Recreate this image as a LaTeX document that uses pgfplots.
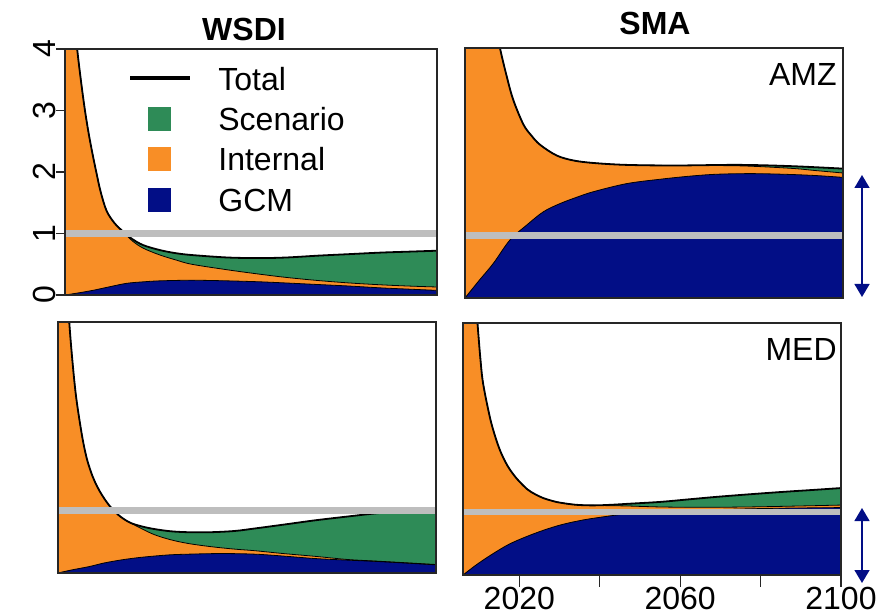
\documentclass[border=0pt]{standalone}
\usepackage{pgfplots}
\pgfplotsset{compat=1.18}
\usepackage{pgfplotstable}
\usepackage{fontspec}
\setmainfont{Liberation Sans}
\usetikzlibrary{arrows.meta}

\definecolor{sgreen}{RGB}{46,139,87}
\definecolor{sorange}{RGB}{248,142,38}
\definecolor{sblue}{RGB}{2,14,134}
\definecolor{refgray}{RGB}{190,190,190}

% ---------- WSDI / AMZ (top left) ----------
\pgfplotstableread{
year val
2006 7.3
2007 5.9
2008 4.8
2009 4.05
2010 3.5
2011 3.02
2012 2.62
2013 2.28
2014 1.97
2015 1.68
2016.5 1.37
2018.5 1.17
2020.7 1.03
2023 0.91
2025.8 0.81
2030 0.73
2034 0.68
2038 0.65
2047 0.61
2055 0.60
2062 0.61
2070 0.64
2078 0.665
2086 0.69
2093 0.705
2100 0.72
}\tlTotal
\pgfplotstableread{
year val
2006 7.3
2007 5.9
2008 4.8
2009 4.05
2010 3.5
2011 3.02
2012 2.62
2013 2.28
2014 1.97
2015 1.68
2016.5 1.37
2018.5 1.17
2020.7 1.03
2023 0.88
2025.8 0.76
2030 0.65
2034 0.57
2038 0.50
2047 0.41
2055 0.34
2062 0.285
2070 0.235
2078 0.195
2086 0.165
2093 0.145
2100 0.13
}\tlInt
\pgfplotstableread{
year val
2006 0
2009 0.03
2013 0.075
2017 0.13
2021.6 0.19
2026 0.215
2030 0.23
2038 0.24
2047 0.23
2055 0.215
2062 0.195
2070 0.17
2078 0.145
2086 0.115
2093 0.095
2100 0.075
}\tlGcm

% ---------- SMA / AMZ (top right) ----------
\pgfplotstableread{
year val
2006 9
2009 6.5
2012 5.0
2013.5 4.45
2014.7 4.0
2016.4 3.54
2018 3.17
2020.5 2.78
2022.5 2.6
2024.7 2.45
2028.8 2.28
2033 2.2
2038 2.16
2046 2.13
2058 2.12
2074 2.13
2087 2.11
2100 2.07
}\trTotal
\pgfplotstableread{
year val
2006 9
2009 6.5
2012 5.0
2013.5 4.45
2014.7 4.0
2016.4 3.54
2018 3.17
2020.5 2.78
2022.5 2.6
2024.7 2.45
2028.8 2.28
2033 2.2
2038 2.16
2046 2.13
2058 2.12
2074 2.115
2087 2.075
2093 2.04
2100 2.00
}\trInt
\pgfplotstableread{
year val
2006 0
2009.5 0.28
2013 0.55
2017.2 0.93
2021.4 1.17
2025.5 1.38
2029.6 1.51
2033.7 1.61
2037.9 1.70
2046.2 1.83
2054.5 1.90
2062 1.95
2068.6 1.98
2077 1.99
2085.2 1.98
2093 1.96
2100 1.93
}\trGcm

% ---------- WSDI / MED (bottom left) ----------
\pgfplotstableread{
year val
2006 9
2007 6.6
2008 4.9
2008.8 4.0
2009.7 3.3
2010.6 2.76
2012 2.18
2013.1 1.84
2014.2 1.61
2015.2 1.45
2016.4 1.3
2018 1.14
2019.5 1.02
2021.5 0.9
2024 0.80
2027 0.74
2030 0.70
2034 0.665
2038.4 0.65
2044 0.65
2050 0.67
2055 0.71
2062 0.77
2070 0.84
2078 0.90
2085 0.95
2092 0.99
2100 1.02
}\blTotal
\pgfplotstableread{
year val
2006 9
2007 6.6
2008 4.9
2008.8 4.0
2009.7 3.3
2010.6 2.76
2012 2.18
2013.1 1.84
2014.2 1.61
2015.2 1.45
2016.4 1.3
2018 1.14
2019.5 1.02
2021.5 0.9
2024 0.80
2027 0.70
2030 0.61
2034 0.53
2038.4 0.47
2044 0.42
2050 0.38
2055 0.355
2062 0.31
2070 0.265
2078 0.215
2085 0.19
2092 0.165
2100 0.135
}\blInt
\pgfplotstableread{
year val
2006 0
2009.5 0.05
2013.6 0.10
2017.5 0.16
2021.9 0.21
2026 0.245
2030 0.27
2034 0.29
2038.4 0.30
2046.7 0.31
2055 0.30
2062 0.27
2070 0.23
2078 0.205
2085 0.185
2092 0.16
2100 0.13
}\blGcm

% ---------- SMA / MED (bottom right) ----------
\pgfplotstableread{
year val
2006 11
2007 8
2008 5.8
2009 4.5
2009.6 4.0
2010.3 3.45
2011 3.04
2012.7 2.5
2014 2.2
2015.2 1.98
2016.5 1.8
2017.7 1.67
2019.5 1.52
2022 1.36
2024 1.28
2026 1.22
2028 1.18
2030 1.15
2034 1.115
2038.4 1.105
2043 1.115
2047 1.13
2055 1.16
2062 1.20
2069 1.24
2077 1.28
2085.7 1.32
2093 1.35
2100 1.38
}\brTotal
\pgfplotstableread{
year val
2006 11
2007 8
2008 5.8
2009 4.5
2009.6 4.0
2010.3 3.45
2011 3.04
2012.7 2.5
2014 2.2
2015.2 1.98
2016.5 1.8
2017.7 1.67
2019.5 1.52
2022 1.36
2024 1.28
2026 1.22
2028 1.18
2030 1.15
2034 1.115
2038.4 1.105
2043 1.10
2047 1.095
2055 1.08
2062 1.075
2069 1.075
2077 1.08
2085.7 1.09
2093 1.10
2100 1.11
}\brInt
\pgfplotstableread{
year val
2006 0
2009.5 0.17
2013.5 0.34
2017.5 0.49
2021.8 0.61
2026 0.71
2030 0.79
2034 0.85
2038.4 0.90
2046.7 0.97
2055 1.00
2062 1.02
2070 1.04
2085 1.06
2100 1.07
}\brGcm

\pgfplotsset{
  panel/.style={
    scale only axis, anchor=north west,
    xmin=2006, xmax=2100, ymin=0, ymax=4,
    axis on top,
    axis line style={black!85, line width=0.6pt},
    xtick=\empty, ytick=\empty,
    tick style={black!85, line width=0.6pt},
    tick label style={font=\fontsize{16}{19}\selectfont},
    /pgf/number format/assume math mode=true,
  },
}
\newcommand\panelcontent[3]{%
  \addplot[fill=sgreen, draw=none, smooth, tension=0.55] table[x=year,y=val] {#1} \closedcycle;
  \addplot[fill=sorange, draw=none, smooth, tension=0.55] table[x=year,y=val] {#2} \closedcycle;
  \addplot[fill=sblue, draw=none, smooth, tension=0.55] table[x=year,y=val] {#3} \closedcycle;
  \addplot[black, line width=0.4pt, smooth, tension=0.55] table[x=year,y=val] {#2};
  \addplot[black, line width=0.4pt, smooth, tension=0.55] table[x=year,y=val] {#3};
  \addplot[black, line width=0.9pt, smooth, tension=0.55] table[x=year,y=val] {#1};
  \addplot[refgray, line width=3.3pt] coordinates {(2006,1) (2100,1)};
}

\begin{document}
\begin{tikzpicture}
\path[use as bounding box] (0pt,0pt) rectangle (443.5pt,-307pt);

% top left
\begin{axis}[panel, at={(32.5pt,-24.5pt)}, width=186pt, height=123pt,
  ytick={0,1,2,3,4}, ytick pos=left, tick align=outside, major tick length=4.5pt,
  yticklabel style={rotate=90, anchor=south, inner sep=0pt}]
  \panelcontent{\tlTotal}{\tlInt}{\tlGcm}
\end{axis}

% top right
\begin{axis}[panel, at={(232.5pt,-24pt)}, width=189pt, height=125pt]
  \panelcontent{\trTotal}{\trInt}{\trGcm}
\end{axis}

% bottom left
\begin{axis}[panel, at={(29pt,-161pt)}, width=189pt, height=125.5pt]
  \panelcontent{\blTotal}{\blInt}{\blGcm}
\end{axis}

% bottom right
\begin{axis}[panel, at={(231.5pt,-161.5pt)}, width=189pt, height=126pt,
  xtick={2020,2040,2060,2080,2100}, xticklabels={2020,,2060,,2100},
  xtick pos=bottom, tick align=outside, major tick length=6pt,
  xticklabel style={anchor=north, inner sep=0pt}]
  \panelcontent{\brTotal}{\brInt}{\brGcm}
\end{axis}

% titles and region labels
\node[font=\bfseries\fontsize{16}{19}\selectfont, inner sep=0pt] at (122pt,-14.8pt) {WSDI};
\node[font=\bfseries\fontsize{16}{19}\selectfont, inner sep=0pt] at (327.5pt,-11.8pt) {SMA};
\node[font=\fontsize{16}{19}\selectfont, inner sep=0pt, anchor=east] at (418.5pt,-37pt) {AMZ};
\node[font=\fontsize{16}{19}\selectfont, inner sep=0pt, anchor=east] at (418.5pt,-174.5pt) {MED};

% legend
\draw[black, line width=2pt] (65pt,-38.9pt) -- (95pt,-38.9pt);
\fill[sgreen] (74pt,-53.5pt) rectangle (85.5pt,-65.5pt);
\fill[sorange] (74pt,-73.5pt) rectangle (85.5pt,-85.5pt);
\fill[sblue] (74pt,-94pt) rectangle (85.5pt,-106pt);
\begin{scope}[every node/.style={font=\fontsize{16}{19}\selectfont, inner sep=0pt, anchor=west}]
\node at (109pt,-39.5pt) {Total};
\node at (109pt,-59.75pt) {Scenario};
\node at (109pt,-79.5pt) {Internal};
\node at (109pt,-100pt) {GCM};
\end{scope}

% range arrows
\draw[sblue, line width=0.7pt, {Triangle[width=7.5pt,length=6.5pt]}-{Triangle[width=7.5pt,length=6.5pt]}] (431pt,-87.5pt) -- (431pt,-148.5pt);
\draw[sblue, line width=0.7pt, {Triangle[width=7.5pt,length=6.5pt]}-{Triangle[width=7.5pt,length=6.5pt]}] (431pt,-254pt) -- (431pt,-291.5pt);
\end{tikzpicture}
\end{document}
